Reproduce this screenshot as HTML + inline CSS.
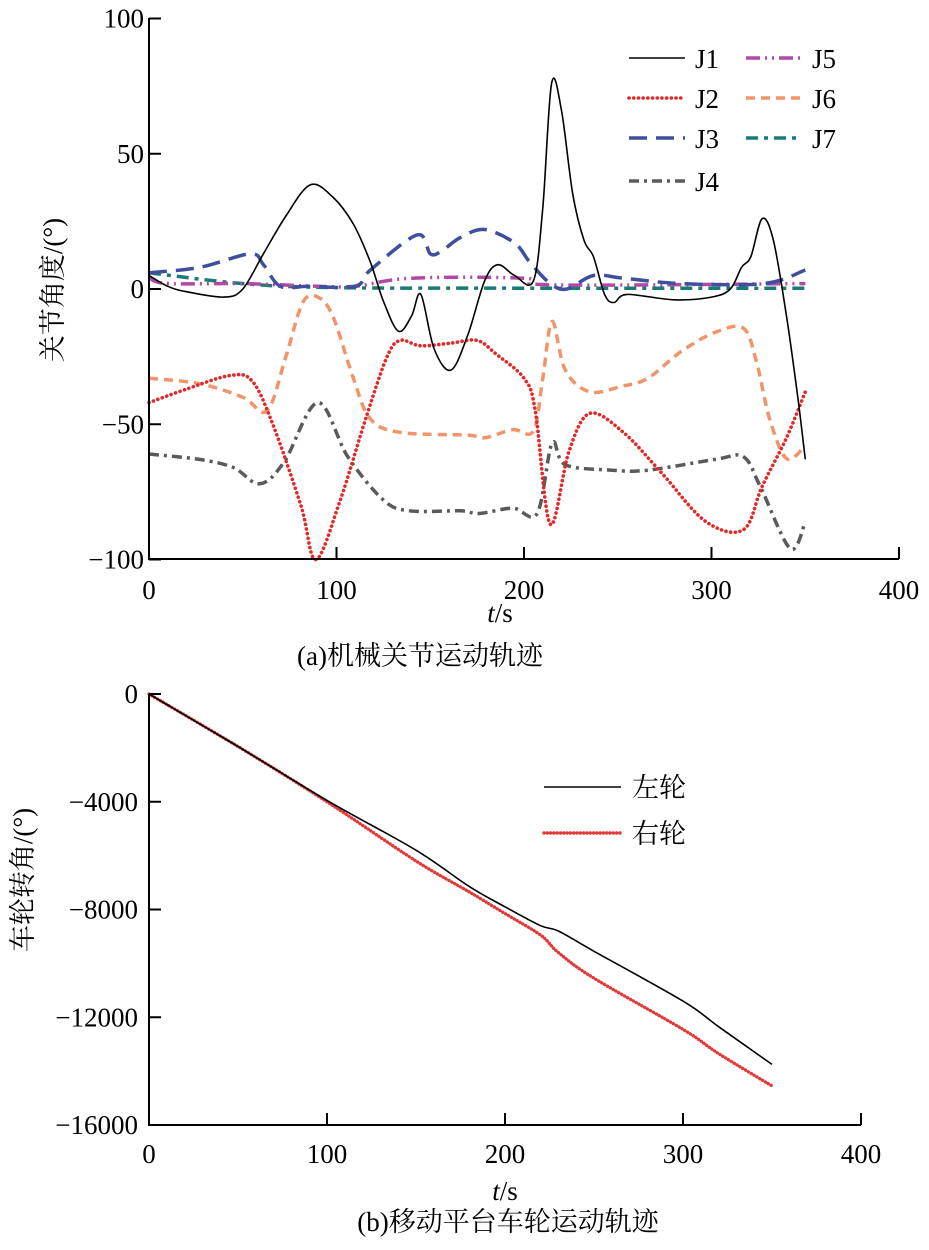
<!DOCTYPE html>
<html><head><meta charset="utf-8"><style>
body{margin:0;background:#fff}
svg text{font-family:"Liberation Serif","Noto Serif CJK SC","Noto Sans CJK SC",serif;fill:#000}
</style></head><body>
<svg id="c" width="929" height="1245" viewBox="0 0 929 1245" xmlns="http://www.w3.org/2000/svg"></svg>
<script>
const jT = {
 J1:[0,10,20,40,50,61,73,86,98,109,118,125,133,140,145,152,161,170,179,186,195,205,210,214.7,220,226,232,237,243,248,255,280,300,310,316,321,327,333,340,346,350],
 J2:[0,20,43,55,66,81,89,102,116,127,134,145,161,175,185,200,206,214,224,235,253,274,297,317,327,340,350],
 J3:[0,27,54,61,70,85,110,118,143,150,156,166,179,195,203,214,223,237,253,284,328,350],
 J4:[0,27,45,59,72,90,106,125,139,166,176,194,207,215,222,247,266,302,317,326,342,350],
 J5:[0,10,50,90,110,140,200,215,350],
 J6:[0,27,50,63,73,82,90,98,109,118,134,170,179,194,205,210,215,222,235,252,266,284,302,317,324,331,340,350],
 J7:[0,50,100,200,350]
};
const jV = {
 J1:[5,1,-1,-3,0,13,27,38.5,34,24,10,-4.5,-15.6,-10,-2,-22,-30,-17,3,9,5,3,30,76,66,35,18,12,-2,-5,-2,-4,-3,0,8,12,26,18,-10,-40,-63],
 J2:[-42,-37,-32,-34,-50,-80,-100,-78,-47,-25,-19,-21,-20,-19,-24,-33,-45,-87,-60,-46,-53,-68.5,-86,-89,-73,-55,-38],
 J3:[6,8,13,9,1,1,1,7,20,13,14,19,22,17,10,2,0,5,4,2,2,7],
 J4:[-61,-63,-66,-72,-64,-42,-62,-78,-82,-82,-83,-81,-83,-57,-65,-67,-67,-63,-62,-73,-96,-86],
 J5:[4,2,2,1,1,4,4,1.5,2],
 J6:[-33,-35,-40,-45,-25,-5,-3,-10,-33,-48,-53,-54,-55,-52,-52.5,-33,-12,-30,-38,-36,-33,-23,-16,-14.5,-27,-48,-62.7,-58],
 J7:[6,2,0.5,0.3,0.3]
};
const jNames = ['J1','J2','J3','J4','J5','J6','J7'];
const aXTicks=[0,100,200,300,400], aYTicks=[100,50,0,-50,-100];
const wT=[0,50,100,150,180,200,220,230,250,300,320,350];
const wLeft=[0,-1950,-3950,-5800,-7150,-7900,-8600,-8800,-9550,-11400,-12350,-13750];
const wRight=[0,-1950,-4000,-6200,-7350,-8150,-8950,-9600,-10550,-12450,-13350,-14550];
const bXTicks=[0,100,200,300,400], bYTicks=[0,-4000,-8000,-12000,-16000];

const S=document.getElementById('c'),NS='http://www.w3.org/2000/svg';
const FS=27;
function el(t,a,p){const e=document.createElementNS(NS,t);for(const k in a)e.setAttribute(k,a[k]);(p||S).appendChild(e);return e;}
function txt(s,a,p){const e=el('text',a,p);e.textContent=s;return e;}
function smooth(pts){let d='M'+pts[0][0].toFixed(1)+','+pts[0][1].toFixed(1);
 for(let i=0;i<pts.length-1;i++){const p0=pts[i-1]||pts[i],p1=pts[i],p2=pts[i+1],p3=pts[i+2]||p2;
  const c1=[p1[0]+(p2[0]-p0[0])/6,p1[1]+(p2[1]-p0[1])/6],c2=[p2[0]-(p3[0]-p1[0])/6,p2[1]-(p3[1]-p1[1])/6];
  d+='C'+c1[0].toFixed(1)+','+c1[1].toFixed(1)+' '+c2[0].toFixed(1)+','+c2[1].toFixed(1)+' '+p2[0].toFixed(1)+','+p2[1].toFixed(1);}
 return d;}
// chart a
const ax=t=>149+t*750/400, ay=v=>289-v*2.705;
const ga=el('g',{});

const styles={
 J1:{stroke:'#000',w:1.6,dash:''},
 J2:{stroke:'#e02a2a',w:3.6,dash:'0.1 4.6',cap:'round'},
 J3:{stroke:'#3f4f9c',w:3.5,dash:'18 9'},
 J4:{stroke:'#5a5a5a',w:3.5,dash:'10 5 3 5'},
 J5:{stroke:'#b04aa5',w:3.5,dash:'14 5 2 5 2 5'},
 J6:{stroke:'#f0956a',w:3.5,dash:'9 6'},
 J7:{stroke:'#1a7b76',w:3.5,dash:'12 6 4 6'}
};
const drawOrder=['J7','J5','J3','J6','J4','J2','J1'];
drawOrder.forEach(n=>{const st=styles[n];
 const p=el('path',{d:smooth(jT[n].map((t,i)=>[ax(t),ay(jV[n][i])])),fill:'none',stroke:st.stroke,'stroke-width':st.w,'stroke-dasharray':st.dash,'stroke-linecap':st.cap||'butt'},ga);
 
 });
el('path',{d:'M149,18V559H899',fill:'none',stroke:'#000','stroke-width':2},ga);
aXTicks.forEach(t=>{el('line',{x1:ax(t),x2:ax(t),y1:559,y2:547,stroke:'#000','stroke-width':2},ga);
 const e=txt(t,{x:ax(t),y:599,'font-size':FS,'text-anchor':'middle'},ga);
 });
aYTicks.forEach(v=>{el('line',{x1:149,x2:161,y1:ay(v),y2:ay(v),stroke:'#000','stroke-width':2},ga);
 const e=txt(v<0?'\u2212'+(-v):v,{x:144,y:ay(v)+9,'font-size':FS,'text-anchor':'end'},ga);
 });
let e=txt('',{x:500,y:622,'font-size':FS,'text-anchor':'middle'},ga);
e.innerHTML='<tspan font-style="italic">t</tspan>/s';

e=txt('关节角度/(°)',{x:0,y:0,'font-size':FS,'text-anchor':'middle',transform:'translate(62,290) rotate(-90)'},ga);

e=txt('(a)机械关节运动轨迹',{x:420,y:665,'font-size':FS,'text-anchor':'middle'},ga);

// legend a
const legPos={J1:[629,58],J2:[629,98],J3:[629,138],J4:[629,181],J5:[746,58],J6:[746,98],J7:[746,138]};
jNames.forEach(n=>{const [lx,ly]=legPos[n],st=styles[n];
 const g=el('g',{},ga);
 el('line',{x1:lx,x2:lx+56,y1:ly,y2:ly,stroke:st.stroke,'stroke-width':st.w,'stroke-dasharray':st.dash,'stroke-linecap':st.cap||'butt'},g);
 txt(n,{x:lx+66,y:ly+10,'font-size':FS},g);});
// chart b
const bx=t=>149+t*1.78, by=v=>694-v*(-431/-16000);
const gb=el('g',{});

let p=el('path',{d:smooth(wT.map((t,i)=>[bx(t),by(wRight[i])])),fill:'none',stroke:'#e03a3a','stroke-width':3.4,'stroke-dasharray':'0.1 3.2','stroke-linecap':'round'},gb);

p=el('path',{d:smooth(wT.map((t,i)=>[bx(t),by(wLeft[i])])),fill:'none',stroke:'#000','stroke-width':1.6},gb);

el('path',{d:'M149,694V1125H861',fill:'none',stroke:'#000','stroke-width':2},gb);
bXTicks.forEach(t=>{el('line',{x1:bx(t),x2:bx(t),y1:1125,y2:1113,stroke:'#000','stroke-width':2},gb);
 const e=txt(t,{x:bx(t),y:1163,'font-size':FS,'text-anchor':'middle'},gb);
 });
bYTicks.forEach(v=>{el('line',{x1:149,x2:161,y1:by(v),y2:by(v),stroke:'#000','stroke-width':2},gb);
 const e=txt(v<0?'\u2212'+(-v):v,{x:138,y:by(v)+9,'font-size':FS,'text-anchor':'end'},gb);
 });
e=txt('',{x:505,y:1200,'font-size':FS,'text-anchor':'middle'},gb);
e.innerHTML='<tspan font-style="italic">t</tspan>/s';

e=txt('车轮转角/(°)',{x:0,y:0,'font-size':FS,'text-anchor':'middle',transform:'translate(32,880) rotate(-90)'},gb);

e=txt('(b)移动平台车轮运动轨迹',{x:508,y:1231,'font-size':FS,'text-anchor':'middle'},gb);

let g=el('g',{},gb);
el('line',{x1:544,x2:621,y1:787,y2:787,stroke:'#000','stroke-width':1.6},g);
txt('左轮',{x:632,y:797,'font-size':FS},g);
g=el('g',{},gb);
el('line',{x1:544,x2:621,y1:833,y2:833,stroke:'#e03a3a','stroke-width':3.4,'stroke-dasharray':'0.1 3.2','stroke-linecap':'round'},g);
txt('右轮',{x:632,y:843,'font-size':FS},g);
</script>
</body></html>
